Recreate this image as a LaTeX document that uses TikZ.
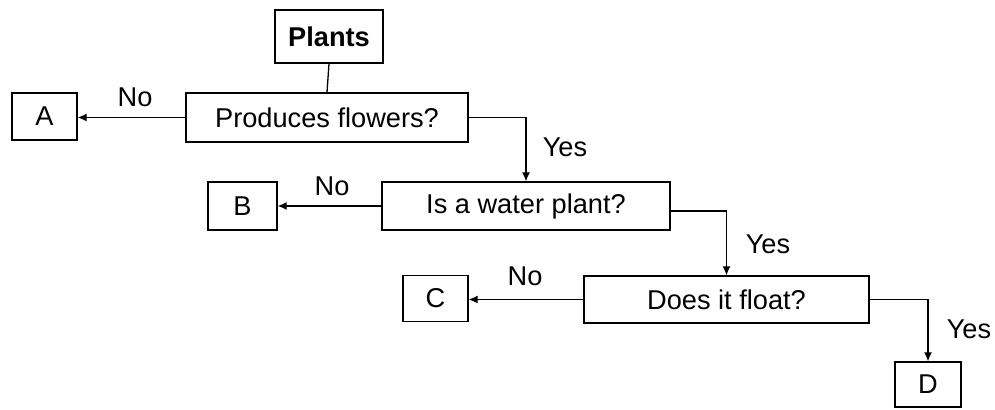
\documentclass[tikz,border=0pt]{standalone}
\usepackage{fontspec}
\setmainfont{Liberation Sans}
\usetikzlibrary{arrows.meta}
\begin{document}
\begin{tikzpicture}[x=0.5pt,y=-0.5pt,
  box/.style={draw,line width=0.65pt,inner sep=0pt,font=\fontsize{13.6}{16}\selectfont},
  lbl/.style={font=\fontsize{13.6}{16}\selectfont,inner sep=0pt},
  conn/.style={line width=0.65pt},
  arr/.style={conn,-{Latex[length=4.5pt,width=4pt]}}]
\useasboundingbox (0,0) rectangle (995,410);
\node[box,minimum width=54pt,minimum height=26.5pt,font=\fontsize{13.6}{16}\selectfont\bfseries] (plants) at (329,36.5) {Plants};
\node[box,minimum width=141pt,minimum height=24.5pt] (q1) at (327,117.5) {Produces flowers?};
\node[box,minimum width=32.5pt,minimum height=23.5pt] (a) at (44.5,116.5) {A};
\node[box,minimum width=144pt,minimum height=24pt] (q2) at (526,206) {Is a water plant?};
\node[box,minimum width=34.5pt,minimum height=24pt] (b) at (242.5,206) {B};
\node[box,minimum width=142.5pt,minimum height=23.5pt] (q3) at (726.5,299.5) {Does it float?};
\node[box,minimum width=32.5pt,minimum height=23pt] (c) at (435.5,298.5) {C};
\node[box,minimum width=33pt,minimum height=22.5pt] (d) at (928,384.5) {D};
\draw[conn] (plants.south) -- (q1.north);
\draw[arr] (q1.west) -- (a.east |- q1.west);
\draw[arr] (q1.east) -| (q2.north);
\draw[arr] (q2.west) -- (b.east |- q2.west);
\draw[arr] ([yshift=-2.5pt]q2.east) -| (q3.north);
\draw[arr] (q3.west) -- (c.east |- q3.west);
\draw[arr] (q3.east) -| (d.north);
\node[lbl] (no1) at (135,97) {No};
\node[lbl] (yes1) at (565,147) {Yes};
\node[lbl] (no2) at (332,186) {No};
\node[lbl] (yes2) at (768,244) {Yes};
\node[lbl] (no3) at (525,276) {No};
\node[lbl] (yes3) at (969,329) {Yes};
\end{tikzpicture}
\end{document}
